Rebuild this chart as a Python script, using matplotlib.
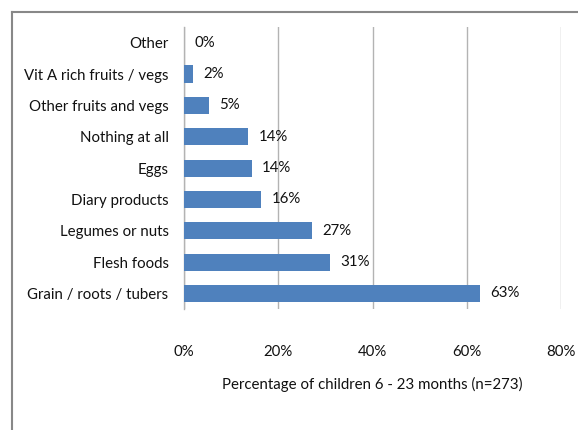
import matplotlib
matplotlib.use("Agg")
import matplotlib.pyplot as plt
from matplotlib.lines import Line2D

categories = ["Other", "Vit A rich fruits / vegs", "Other fruits and vegs",
              "Nothing at all", "Eggs", "Diary products", "Legumes or nuts",
              "Flesh foods", "Grain / roots / tubers"]
values = [0.0, 1.9, 5.3, 13.6, 14.4, 16.4, 27.2, 30.9, 62.8]
xticks = [0, 20, 40, 60, 80]
xlabel = "Percentage of children 6 - 23 months (n=273)"

plt.rcParams['font.family'] = ['Lato', 'DejaVu Sans']
fs = 10.8
tc = "#111111"

fig = plt.figure(figsize=(5.78, 4.30), dpi=100)
ax = fig.add_axes([0.318, 0.281, 0.653, 0.656])

ypos = list(range(len(categories)))[::-1]
ax.barh(ypos, values, height=0.55, color="#4F81BD", edgecolor="none", zorder=3)
for y, v in zip(ypos, values):
    ax.text(v + 2.2, y, f"{round(v):d}%", va="center", ha="left", fontsize=fs, color=tc)

ax.set_xlim(0, 80)
ax.set_ylim(-0.5, len(categories) - 0.5)
ax.set_xticks(xticks)
ax.set_xticklabels([f"{t}%" for t in xticks], fontsize=fs, color=tc)
ax.set_yticks(ypos)
ax.set_yticklabels(categories, fontsize=fs, color=tc)
ax.tick_params(axis="y", length=0, pad=11)
ax.tick_params(axis="x", length=0, pad=26)
ax.grid(axis="x", color="#B3B3B3", linewidth=1.0, zorder=0)
for s in ["top", "right", "bottom"]:
    ax.spines[s].set_visible(False)
ax.spines["left"].set_color("#B3B3B3")
ax.spines["left"].set_linewidth(1.0)
ax.set_xlabel(xlabel, fontsize=fs, color=tc, labelpad=13)

# outer chart frame
fig.add_artist(Line2D([12/578, 1.0], [1 - 12/430, 1 - 12/430], transform=fig.transFigure,
                      color="#888888", linewidth=1.5))
fig.add_artist(Line2D([12/578, 12/578], [1 - 12/430, 0.0], transform=fig.transFigure,
                      color="#888888", linewidth=1.5))

fig.savefig("out.png", dpi=100)
